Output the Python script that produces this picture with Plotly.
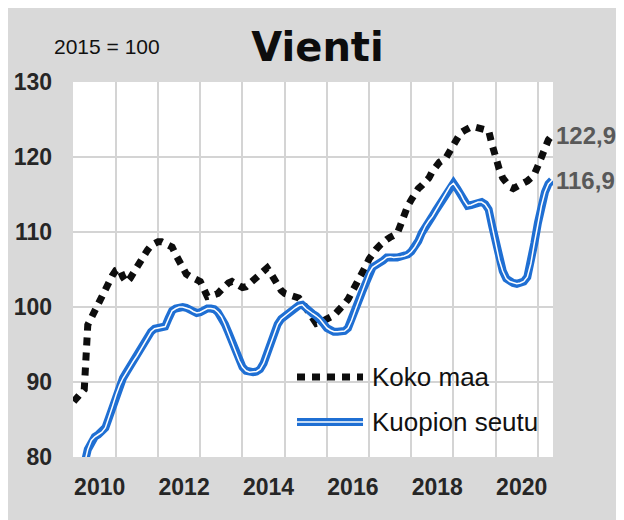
import plotly.graph_objects as go

# ---- data (monthly, starting Jan 2010) ----
start_year = 2010
koko_maa = [
    87.4, 87.9, 88.4, 89.0, 97.6, 98.6, 99.3, 100.2, 101.2, 102.3,
    103.2, 104.2, 104.9, 105.1, 104.0, 103.3, 103.8, 104.6, 105.3, 106.3,
    107.0, 107.6, 108.2, 108.5, 108.7, 108.7, 108.5, 108.2, 108.0, 107.0,
    106.0, 105.2, 104.4, 104.1, 103.8, 103.6, 103.4, 102.4, 101.4, 101.5,
    101.6, 101.8, 102.3, 102.8, 103.2, 103.4, 103.1, 102.8, 102.6, 102.7,
    103.1, 103.7, 104.1, 104.5, 104.9, 105.2, 104.5, 103.7, 102.8, 102.2,
    101.8, 101.6, 101.5, 101.3, 101.2, 100.6, 99.9, 99.1, 98.2, 97.8,
    97.9, 98.1, 98.3, 98.5, 98.9, 99.4, 99.8, 100.4, 101.0, 101.8,
    102.6, 103.4, 104.4, 105.4, 106.4, 107.2, 107.7, 108.2, 108.7, 109.0,
    109.3, 109.6, 109.8, 111.0, 112.6, 113.5, 114.3, 115.1, 115.8, 116.2,
    116.6, 117.2, 118.1, 118.9, 119.3, 119.6, 120.0, 120.8, 121.7, 122.5,
    123.2, 123.5, 123.8, 124.0, 124.0, 123.9, 123.8, 123.7, 123.5, 121.6,
    119.8, 118.4, 117.2, 116.6, 116.0, 115.8, 116.0, 116.2, 116.5, 116.8,
    117.2, 117.7, 118.8, 120.0, 121.3, 122.3, 122.9,
]
kuopion_seutu = [
    74.0, 75.5, 77.0, 79.0, 81.0, 82.2, 82.7, 83.0, 83.3, 83.9,
    85.2, 86.7, 88.2, 89.5, 90.5, 91.3, 92.1, 92.8, 93.5, 94.3,
    95.2, 96.0, 96.7, 97.1, 97.2, 97.2, 97.4, 98.5, 99.5, 99.8,
    100.0, 100.0, 99.9, 99.7, 99.4, 99.2, 99.3, 99.6, 99.8, 99.8,
    99.7, 99.3, 98.7, 97.7, 96.6, 95.3, 94.1, 92.9, 92.0, 91.5,
    91.3, 91.3, 91.4, 91.7, 92.5, 93.8, 95.2, 96.6, 97.7, 98.4,
    98.8, 99.2, 99.5, 99.9, 100.2, 100.3, 99.8, 99.4, 99.1, 98.8,
    98.4, 97.8, 97.2, 96.9, 96.7, 96.7, 96.7, 96.8, 97.2, 98.2,
    99.5, 100.8, 102.0, 103.3, 104.5, 105.3, 105.6, 105.8, 106.2, 106.6,
    106.7, 106.6, 106.6, 106.7, 106.8, 107.0, 107.4, 108.0, 108.8, 109.9,
    110.8, 111.5, 112.1, 112.9, 113.7, 114.5, 115.3, 116.1, 116.5, 115.8,
    115.1, 114.2, 113.5, 113.6, 113.8, 114.0, 114.0, 113.7, 113.0, 110.8,
    108.4, 106.3, 104.8, 103.8, 103.4, 103.2, 103.1, 103.2, 103.4, 104.0,
    105.8, 108.5, 111.2, 113.5, 115.3, 116.4, 116.9,
]
series_names = ["Koko maa", "Kuopion seutu"]
label_years = [2010, 2012, 2014, 2016, 2018, 2020]
grid_years = list(range(2011, 2022))
y_ticks = [80, 90, 100, 110, 120, 130]
title_text = "Vienti"
base_text = "2015 = 100"

months = list(range(len(koko_maa)))
label_pos = [(y - start_year) * 12 for y in label_years]
grid_pos = [(y - start_year) * 12 for y in grid_years]
x_range = [-0.2, len(koko_maa) - 0.7]

BLACK = "#0d0d0d"
BLUE = "#1f6fd3"
GRAY_BG = "#d9d9d9"
GRID = "#d4d4d4"
SANS = "Liberation Sans, Arial, sans-serif"

W, H = 616, 512

fig = go.Figure()
fig.add_trace(go.Scatter(x=months, y=koko_maa, mode="lines", name=series_names[0],
                         line=dict(color=BLACK, width=7, dash="8px,7px"),
                         showlegend=False, hoverinfo="skip"))
fig.add_trace(go.Scatter(x=months, y=kuopion_seutu, mode="lines", name=series_names[1],
                         line=dict(color=BLUE, width=8), showlegend=False, hoverinfo="skip"))
fig.add_trace(go.Scatter(x=months, y=kuopion_seutu, mode="lines", name=series_names[1],
                         line=dict(color="white", width=1.5), showlegend=False, hoverinfo="skip"))
# invisible trace to activate xaxis2 (year labels)
fig.add_trace(go.Scatter(x=[months[0]], y=[kuopion_seutu[0]], xaxis="x2", mode="lines",
                         showlegend=False, hoverinfo="skip", line=dict(width=0)))

# end-value labels
for vals in (koko_maa, kuopion_seutu):
    fig.add_annotation(x=months[-1], y=vals[-1], xref="x", yref="y",
                       text=f"{vals[-1]:.1f}".replace(".", ","), showarrow=False,
                       xanchor="left", yanchor="middle", xshift=2,
                       font=dict(family=SANS, size=24, color="#595959", weight="bold"))

# base year note
fig.add_annotation(x=-0.043, y=1.095, xref="paper", yref="paper", text=base_text,
                   showarrow=False, xanchor="left", yanchor="middle",
                   font=dict(family=SANS, size=21, color="#111111"))

# custom legend
fig.add_shape(type="rect", xref="paper", yref="paper", x0=0.4354, x1=0.9875,
              y0=0.032, y1=0.28, fillcolor="white", line=dict(width=0), layer="between")
fig.add_shape(type="line", xref="paper", yref="paper", x0=0.4667, x1=0.6042,
              y0=0.2133, y1=0.2133, line=dict(color=BLACK, width=7, dash="8px,7px"))
fig.add_shape(type="line", xref="paper", yref="paper", x0=0.4667, x1=0.6042,
              y0=0.0933, y1=0.0933, line=dict(color=BLUE, width=8))
fig.add_shape(type="line", xref="paper", yref="paper", x0=0.4667, x1=0.6042,
              y0=0.0933, y1=0.0933, line=dict(color="white", width=1.5))
for name, yy in zip(series_names, (0.2133, 0.0933)):
    fig.add_annotation(x=0.619, y=yy, xref="paper", yref="paper", text=name,
                       showarrow=False, xanchor="left", yanchor="middle",
                       font=dict(family=SANS, size=26, color="#111111"))

fig.update_layout(
    width=W, height=H,
    margin=dict(l=65, r=71, t=74, b=63, autoexpand=False),
    paper_bgcolor=GRAY_BG, plot_bgcolor="white",
    title=dict(text=title_text, x=309.5 / W, xanchor="center", y=1 - 39.4 / H,
               yanchor="middle", xref="container", yref="container",
               font=dict(family="DejaVu Sans, sans-serif", size=40, color=BLACK, weight="bold")),
    xaxis=dict(range=x_range, tickmode="array", tickvals=grid_pos, showticklabels=False,
               showgrid=True, gridcolor=GRID, gridwidth=2, zeroline=False, showline=False,
               ticks=""),
    xaxis2=dict(range=x_range, overlaying="x", anchor="y", side="bottom", tickmode="array",
                tickvals=label_pos, ticktext=[str(y) for y in label_years],
                showgrid=False, zeroline=False, showline=False, ticks="",
                ticklabelshift=26, ticklabelstandoff=14,
                tickfont=dict(family=SANS, size=23, color="#262626", weight="bold")),
    yaxis=dict(range=[80, 130], tickmode="array", tickvals=y_ticks, showgrid=True,
               gridcolor=GRID, gridwidth=2, zeroline=False, showline=False, ticks="",
               ticklabelstandoff=20,
               tickfont=dict(family=SANS, size=23, color="#262626", weight="bold")),
    showlegend=False,
)

fig.write_html("out.html")
